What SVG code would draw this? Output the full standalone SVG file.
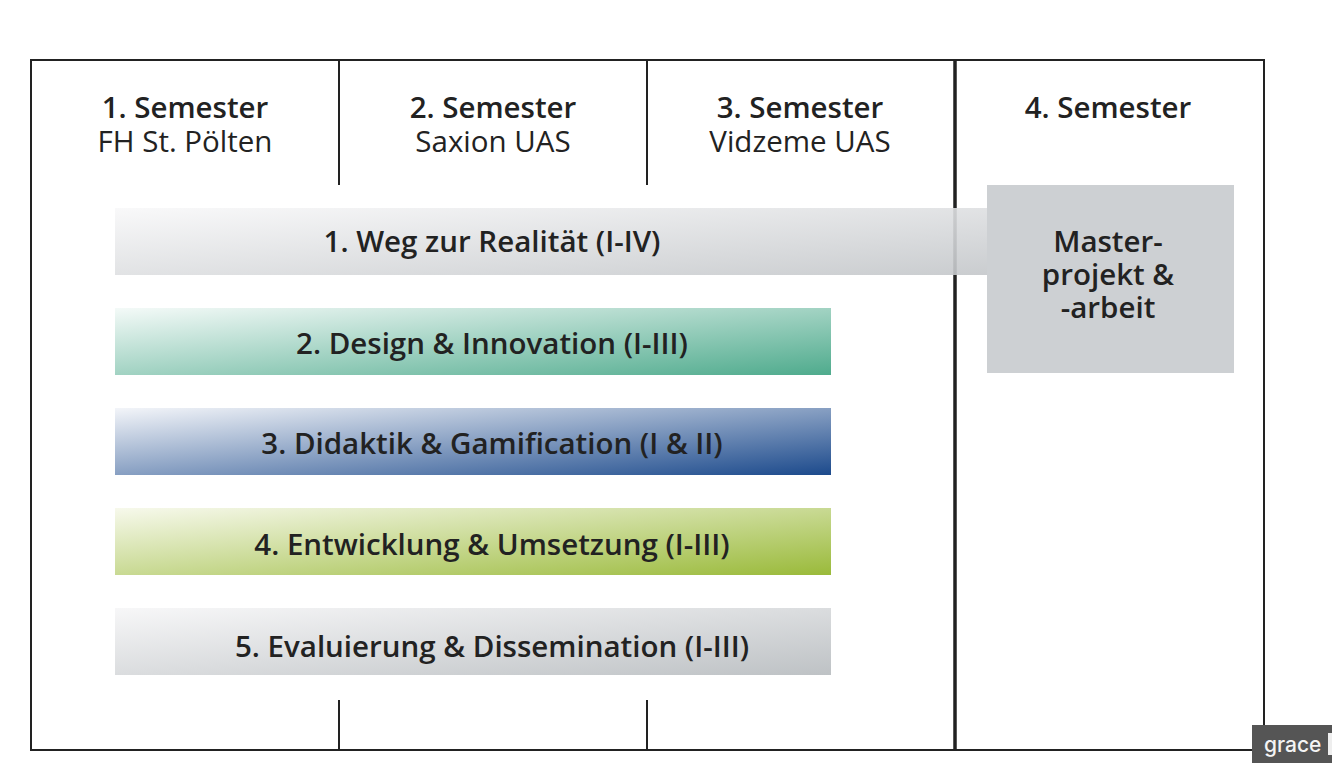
<svg xmlns="http://www.w3.org/2000/svg" width="1332" height="778" viewBox="0 0 1332 778">
<style>
.frame{fill:none;stroke:#222;stroke-width:2}
.sep{stroke:#222;stroke-width:2}
.h{font-family:"Open Sans",sans-serif;font-weight:600;font-size:29.5px;fill:#222;text-anchor:middle}
.s{font-family:"Open Sans",sans-serif;font-weight:400;font-size:29.5px;fill:#222;text-anchor:middle}
.b{font-family:"Open Sans",sans-serif;font-weight:600;font-size:29.5px;fill:#222;text-anchor:middle}
</style>
<defs>
<linearGradient id="g1" x1="0" y1="0" x2="1" y2="1"><stop offset="0" stop-color="#f8f8f9"/><stop offset="1" stop-color="#c4c7ca"/></linearGradient>
<linearGradient id="g2" x1="0" y1="0" x2="1" y2="1"><stop offset="0" stop-color="#f4faf8"/><stop offset="1" stop-color="#4fab8d"/></linearGradient>
<linearGradient id="g3" x1="0" y1="0" x2="1" y2="1"><stop offset="0" stop-color="#f3f5f9"/><stop offset="1" stop-color="#1c4a8c"/></linearGradient>
<linearGradient id="g4" x1="0" y1="0" x2="1" y2="1"><stop offset="0" stop-color="#f7f9ec"/><stop offset="1" stop-color="#9aba3a"/></linearGradient>
<linearGradient id="g5" x1="0" y1="0" x2="1" y2="1"><stop offset="0" stop-color="#f7f7f8"/><stop offset="1" stop-color="#bec2c5"/></linearGradient>
</defs>
<g id="frame">
<rect class="frame" x="31" y="60" width="1233" height="690"/>
<line class="sep" x1="339" y1="60" x2="339" y2="185"/>
<line class="sep" x1="647" y1="60" x2="647" y2="185"/>
<line class="sep" x1="339" y1="700" x2="339" y2="750"/>
<line class="sep" x1="647" y1="700" x2="647" y2="750"/>
<line x1="955" y1="60" x2="955" y2="750" stroke="#222" stroke-width="3.5"/>
</g>
<g id="sem1"><text class="h" x="185" y="118">1. Semester</text><text class="s" x="185" y="152">FH St. Pölten</text></g>
<g id="sem2"><text class="h" x="493" y="118">2. Semester</text><text class="s" x="493" y="152">Saxion UAS</text></g>
<g id="sem3"><text class="h" x="800" y="118">3. Semester</text><text class="s" x="800" y="152">Vidzeme UAS</text></g>
<g id="sem4"><text class="h" x="1108" y="118">4. Semester</text></g>
<g id="bar1"><rect x="115" y="208" width="872" height="67" fill="url(#g1)" opacity="0.9"/><text class="b" x="492" y="252">1. Weg zur Realität (I-IV)</text></g>
<g id="master"><rect x="987" y="185" width="247" height="188" fill="#cdd0d3"/>
<text class="b" x="1108" y="252">Master-</text><text class="b" x="1108" y="285">projekt &amp;</text><text class="b" x="1108" y="318">-arbeit</text></g>
<g id="bar2"><rect x="115" y="308" width="716" height="67" fill="url(#g2)"/><text class="b" x="492" y="354">2. Design &amp; Innovation (I-III)</text></g>
<g id="bar3"><rect x="115" y="408" width="716" height="67" fill="url(#g3)"/><text class="b" x="492" y="454">3. Didaktik &amp; Gamification (I &amp; II)</text></g>
<g id="bar4"><rect x="115" y="508" width="716" height="67" fill="url(#g4)"/><text class="b" x="492" y="555">4. Entwicklung &amp; Umsetzung (I-III)</text></g>
<g id="bar5"><rect x="115" y="608" width="716" height="67" fill="url(#g5)"/><text class="b" x="492" y="657">5. Evaluierung &amp; Dissemination (I-III)</text></g>
<g id="tooltip"><rect x="1252" y="725" width="90" height="38" fill="#555"/><rect x="1328" y="733" width="4" height="22" fill="#eee"/><text x="1264" y="752" font-family="Inter,sans-serif" font-size="21" font-weight="500" fill="#f4f4f4">grace</text></g>
</svg>
